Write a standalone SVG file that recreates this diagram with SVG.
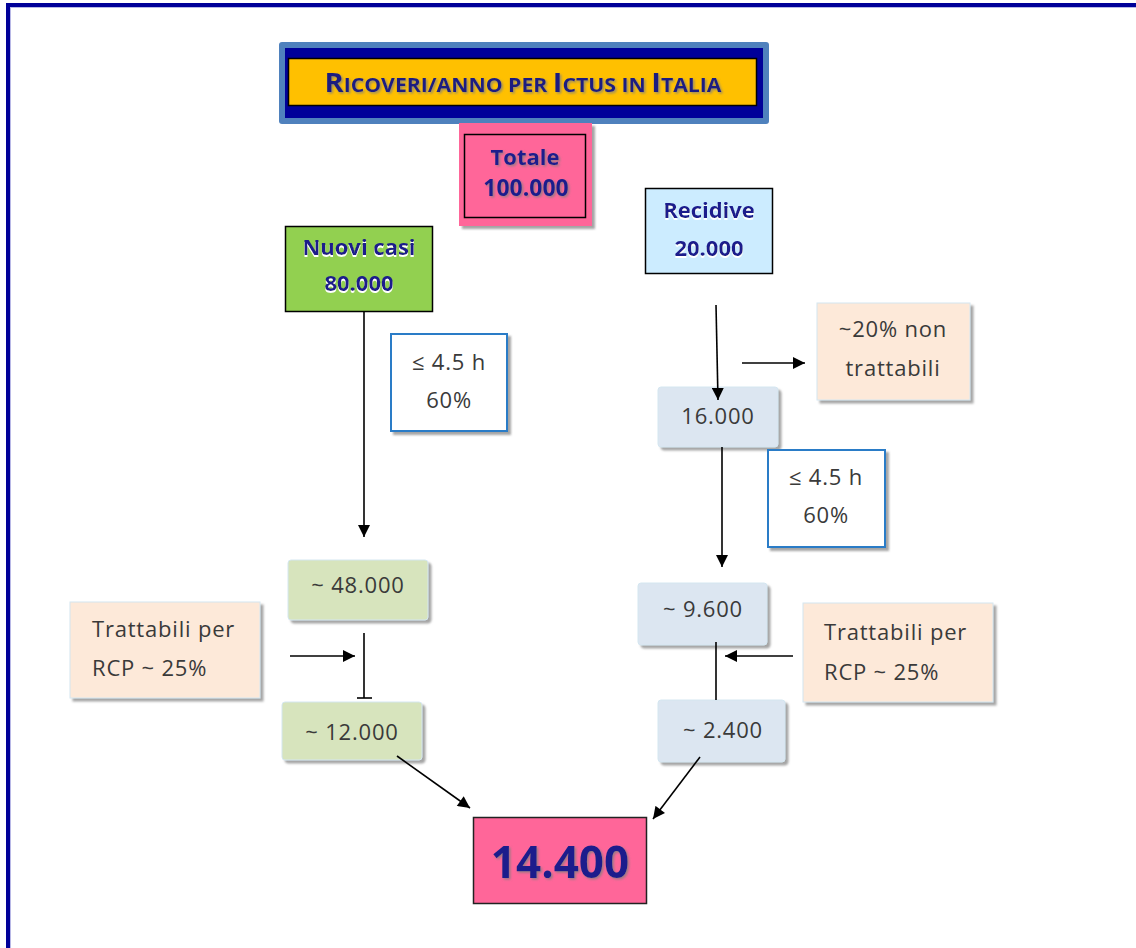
<svg xmlns="http://www.w3.org/2000/svg" width="1136" height="948" viewBox="0 0 1136 948">
<defs>
<filter id="sh" x="-10%" y="-10%" width="130%" height="130%">
<feDropShadow dx="3" dy="3" stdDeviation="1.2" flood-color="#7f7f7f" flood-opacity="0.7"/>
</filter>
<filter id="tsh" x="-10%" y="-10%" width="130%" height="130%">
<feDropShadow dx="1.5" dy="1.5" stdDeviation="1" flood-color="#7f7f7f" flood-opacity="0.8"/>
</filter>
<filter id="wsh" x="-10%" y="-10%" width="130%" height="130%">
<feDropShadow dx="0" dy="2" stdDeviation="0.6" flood-color="#ffffff" flood-opacity="1"/>
</filter>
<marker id="ah" viewBox="0 0 10 10" refX="10" refY="5" markerWidth="13" markerHeight="12" markerUnits="userSpaceOnUse" orient="auto">
<path d="M0,0 L10,5 L0,10 z" fill="#000"/>
</marker>
</defs>
<style>
.blue{font-family:"Open Sans","Liberation Sans",sans-serif;font-weight:bold;fill:#1a1a8c;text-anchor:middle}
.reg{font-family:"Open Sans","Liberation Sans",sans-serif;font-size:22px;fill:#3a3a3a;letter-spacing:0.8px}
.mid{text-anchor:middle}
.light{stroke:#d4e6f0;stroke-width:1}
.con{stroke:#000;stroke-width:1.6;fill:none}
</style>
<rect x="0" y="0" width="1136" height="948" fill="#fff"/>
<!-- frame -->
<rect x="6" y="3" width="1130" height="4" fill="#000099"/>
<rect x="6" y="3" width="4" height="945" fill="#000099"/>
<rect x="10" y="7" width="1126" height="1" fill="#b8b8e6"/>
<rect x="10" y="7" width="1" height="941" fill="#b8b8e6"/>

<g id="title">
<rect x="279" y="42" width="490" height="82" rx="3" fill="#4f81bd"/>
<rect x="285" y="48" width="478" height="70" fill="#000099"/>
<rect x="288.5" y="58.5" width="468" height="47" fill="#ffc000" stroke="#000" stroke-width="1.5"/>
<text x="523" y="92" font-family="'Open Sans','Liberation Sans',sans-serif" font-weight="bold" fill="#1f1f80" text-anchor="middle" textLength="397" lengthAdjust="spacingAndGlyphs" filter="url(#tsh)"><tspan font-size="26">R</tspan><tspan font-size="19">ICOVERI/ANNO PER </tspan><tspan font-size="26">I</tspan><tspan font-size="19">CTUS IN </tspan><tspan font-size="26">I</tspan><tspan font-size="19">TALIA</tspan></text>
</g>

<g id="totale">
<rect x="459" y="123" width="133" height="103" fill="#ff6699" filter="url(#sh)"/>
<rect x="464.5" y="134.5" width="121" height="83" fill="none" stroke="#000" stroke-width="1.5"/>
<text class="blue" x="525" y="165" font-size="22" filter="url(#tsh)">Totale</text>
<text class="blue" x="526" y="196" font-size="23" filter="url(#tsh)">100.000</text>
</g>

<g id="nuovi">
<rect x="285.5" y="226.5" width="147" height="85" fill="#92d050" stroke="#000" stroke-width="1.5"/>
<text class="blue" x="359" y="255" font-size="22" filter="url(#wsh)">Nuovi casi</text>
<text class="blue" x="359" y="291" font-size="22" filter="url(#wsh)">80.000</text>
</g>

<g id="recidive">
<rect x="645.5" y="188.5" width="127" height="85" fill="#ccecff" stroke="#000" stroke-width="1.5"/>
<text class="blue" x="709" y="218" font-size="22" filter="url(#wsh)">Recidive</text>
<text class="blue" x="709" y="256" font-size="22" filter="url(#wsh)">20.000</text>
</g>

<g id="time1">
<rect x="391" y="334" width="116" height="97" fill="#fff" stroke="#2a7cc7" stroke-width="2" filter="url(#sh)"/>
<text class="reg mid" x="449" y="370">≤ 4.5 h</text>
<text class="reg mid" x="449" y="408">60%</text>
</g>

<g id="nontratt">
<rect x="817" y="303" width="153" height="97" fill="#fde9d9" class="light" filter="url(#sh)"/>
<text class="reg mid" x="893" y="337">~20% non</text>
<text class="reg mid" x="893" y="376">trattabili</text>
</g>

<g id="n16000">
<rect x="658" y="387" width="120" height="60" rx="3" fill="#dce6f1" class="light" filter="url(#sh)"/>
<text class="reg mid" x="718" y="424">16.000</text>
</g>

<g id="time2">
<rect x="768" y="450" width="117" height="97" fill="#fff" stroke="#2a7cc7" stroke-width="2" filter="url(#sh)"/>
<text class="reg mid" x="826" y="485">≤ 4.5 h</text>
<text class="reg mid" x="826" y="523">60%</text>
</g>

<g id="n48000">
<rect x="288" y="560" width="140" height="60" rx="3" fill="#d7e4bd" class="light" filter="url(#sh)"/>
<text class="reg mid" x="358" y="593">~ 48.000</text>
</g>

<g id="rcp-left">
<rect x="70" y="602" width="190" height="96" fill="#fde9d9" class="light" filter="url(#sh)"/>
<text class="reg" x="92" y="637">Trattabili per</text>
<text class="reg" x="92" y="676">RCP ~ 25%</text>
</g>

<g id="n12000">
<rect x="282" y="702" width="140" height="58" rx="3" fill="#d7e4bd" class="light" filter="url(#sh)"/>
<text class="reg mid" x="352" y="740">~ 12.000</text>
</g>

<g id="n9600">
<rect x="638" y="583" width="129" height="62" rx="3" fill="#dce6f1" class="light" filter="url(#sh)"/>
<text class="reg mid" x="703" y="617">~ 9.600</text>
</g>

<g id="rcp-right">
<rect x="803" y="603" width="190" height="99" fill="#fde9d9" class="light" filter="url(#sh)"/>
<text class="reg" x="824" y="640">Trattabili per</text>
<text class="reg" x="824" y="680">RCP ~ 25%</text>
</g>

<g id="n2400">
<rect x="658" y="700" width="127" height="62" rx="3" fill="#dce6f1" class="light" filter="url(#sh)"/>
<text class="reg mid" x="723" y="738">~ 2.400</text>
</g>

<g id="result">
<rect x="473.5" y="817.5" width="173" height="86" fill="#ff6699" stroke="#222" stroke-width="1.5"/>
<text class="blue" x="560" y="878" font-size="44" filter="url(#tsh)">14.400</text>
</g>

<g id="connectors">
<line class="con" x1="364" y1="312" x2="364" y2="537" marker-end="url(#ah)"/>
<line class="con" x1="716" y1="305" x2="718" y2="400" marker-end="url(#ah)"/>
<line class="con" x1="742" y1="363" x2="805" y2="363" marker-end="url(#ah)"/>
<line class="con" x1="722" y1="447" x2="722" y2="567" marker-end="url(#ah)"/>
<line class="con" x1="290" y1="656" x2="355" y2="656" marker-end="url(#ah)"/>
<line class="con" x1="364" y1="633" x2="364" y2="698"/>
<line class="con" x1="357" y1="698" x2="372" y2="698"/>
<line class="con" x1="716" y1="642" x2="716" y2="700"/>
<line class="con" x1="793" y1="656" x2="725" y2="656" marker-end="url(#ah)"/>
<line class="con" x1="397" y1="756" x2="470" y2="808" marker-end="url(#ah)"/>
<line class="con" x1="700" y1="757" x2="653" y2="819" marker-end="url(#ah)"/>
</g>
</svg>
